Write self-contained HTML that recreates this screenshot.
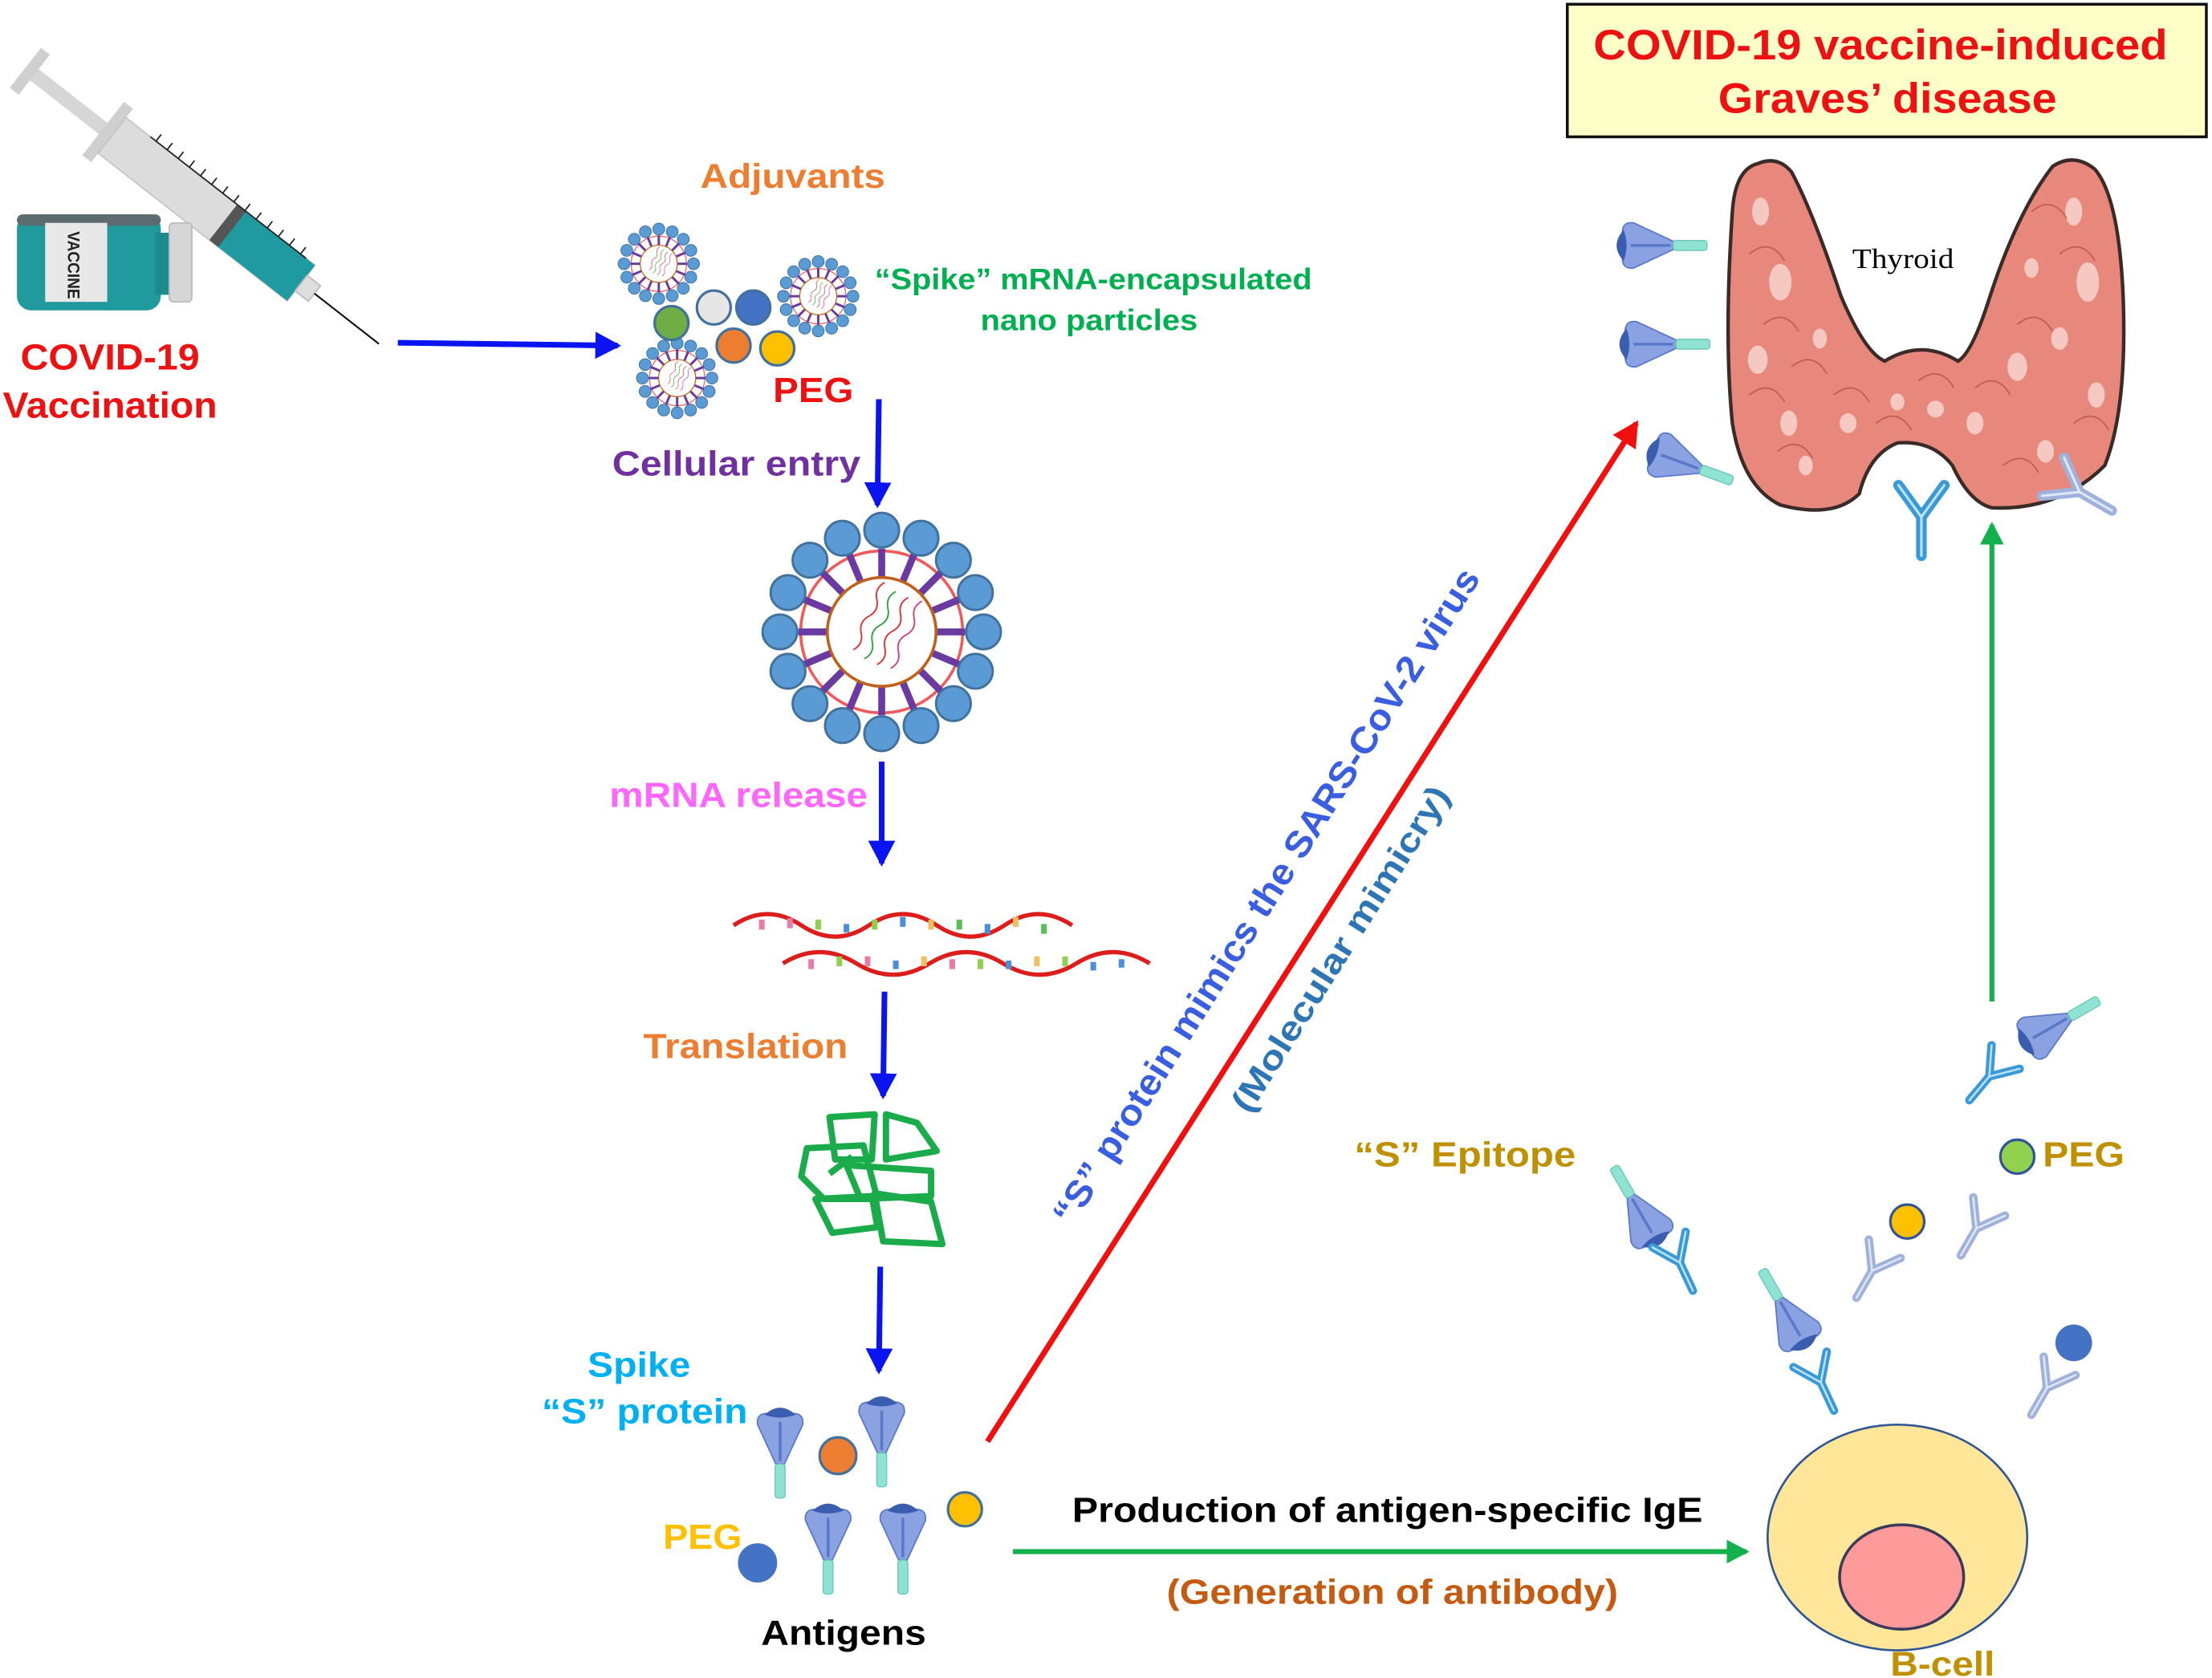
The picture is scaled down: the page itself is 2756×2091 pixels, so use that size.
<!DOCTYPE html>
<html><head><meta charset="utf-8"><style>
html,body{margin:0;padding:0;background:#fff;}
svg{display:block;}
text{font-family:"Liberation Sans",Arial,sans-serif;font-weight:bold;}
</style></head><body>
<svg width="2756" height="2091" viewBox="0 0 1568 1189.6" preserveAspectRatio="none" xmlns="http://www.w3.org/2000/svg">
<defs>
  <marker id="ab" markerWidth="6" markerHeight="6" refX="4" refY="3" orient="auto" markerUnits="strokeWidth"><path d="M0,0.6 L4.6,3 L0,5.4 Z" fill="#0a14f0"/></marker>
  <marker id="ar" markerWidth="6" markerHeight="6" refX="4" refY="3" orient="auto" markerUnits="strokeWidth"><path d="M0,0.6 L4.6,3 L0,5.4 Z" fill="#f01010"/></marker>
  <marker id="ag" markerWidth="6" markerHeight="6" refX="4" refY="3" orient="auto" markerUnits="strokeWidth"><path d="M0,0.6 L4.6,3 L0,5.4 Z" fill="#14b04c"/></marker>
  <g id="np">
    <circle r="70" fill="none" stroke="#f05a5a" stroke-width="2.5"/>
    <g stroke="#6a3aa0" stroke-width="6">
      <line x1="0" y1="-47" x2="0" y2="-72"/><line x1="0" y1="47" x2="0" y2="72"/>
      <line x1="-47" y1="0" x2="-72" y2="0"/><line x1="47" y1="0" x2="72" y2="0"/>
      <line x1="33" y1="33" x2="51" y2="51"/><line x1="-33" y1="33" x2="-51" y2="51"/>
      <line x1="33" y1="-33" x2="51" y2="-51"/><line x1="-33" y1="-33" x2="-51" y2="-51"/>
      <line x1="18" y1="-43" x2="28" y2="-67"/><line x1="-18" y1="-43" x2="-28" y2="-67"/>
      <line x1="18" y1="43" x2="28" y2="67"/><line x1="-18" y1="43" x2="-28" y2="67"/>
      <line x1="43" y1="18" x2="67" y2="28"/><line x1="-43" y1="18" x2="-67" y2="28"/>
      <line x1="43" y1="-18" x2="67" y2="-28"/><line x1="-43" y1="-18" x2="-67" y2="-28"/>
    </g>
    <circle r="47" fill="#fff" stroke="#c0601a" stroke-width="2.5"/>
    <g fill="none" stroke-width="1.3">
      <path d="M-22,25 q6,-8 0,-16 q-6,-8 0,-16 q6,-8 0,-16 q-6,-8 0,-16" stroke="#e03030" transform="translate(6,2) rotate(25)"/>
      <path d="M-10,28 q6,-8 0,-16 q-6,-8 0,-16 q6,-8 0,-16 q-6,-8 0,-16" stroke="#30a040" transform="translate(6,2) rotate(25)"/>
      <path d="M2,28 q6,-8 0,-16 q-6,-8 0,-16 q6,-8 0,-16 q-6,-8 0,-16" stroke="#e03030" transform="translate(6,2) rotate(25)"/>
      <path d="M14,26 q6,-8 0,-16 q-6,-8 0,-16 q6,-8 0,-16 q-6,-8 0,-16" stroke="#d04080" transform="translate(6,2) rotate(25)"/>
    </g>
    <g fill="#5b9bd5" stroke="#41719c" stroke-width="2">
      <circle cx="0" cy="-88" r="15"/><circle cx="34" cy="-81" r="15"/><circle cx="62" cy="-62" r="15"/><circle cx="81" cy="-34" r="15"/>
      <circle cx="88" cy="0" r="15"/><circle cx="81" cy="34" r="15"/><circle cx="62" cy="62" r="15"/><circle cx="34" cy="81" r="15"/>
      <circle cx="0" cy="88" r="15"/><circle cx="-34" cy="81" r="15"/><circle cx="-62" cy="62" r="15"/><circle cx="-81" cy="34" r="15"/>
      <circle cx="-88" cy="0" r="15"/><circle cx="-81" cy="-34" r="15"/><circle cx="-62" cy="-62" r="15"/><circle cx="-34" cy="-81" r="15"/>
    </g>
  </g>
  <g id="spk">
    <path d="M-16,-20 Q-17,-28 -9,-28 Q0,-35 9,-28 Q17,-28 16,-20 L3,8 L-3,8 Z" fill="#8aa2e2" stroke="#5a78c8" stroke-width="1"/>
    <path d="M-11,-27 Q0,-37 11,-27 Q0,-23 -11,-27 Z" fill="#3a5db0"/>
    <path d="M0,-22 L0,6" stroke="#5a78c8" stroke-width="2"/>
    <rect x="-3.5" y="8" width="7" height="24" rx="2" fill="#8fe3d2" stroke="#6cc8b8" stroke-width="0.8"/>
  </g>
  <g id="iab" fill="none" stroke-linecap="round">
    <path d="M0,0 L0,-22 L-13,-40 M0,-22 L13,-40" stroke="#3a9ad8" stroke-width="6"/>
    <path d="M0,0 L0,-22 L-13,-40 M0,-22 L13,-40" stroke="#bfe3f7" stroke-width="1.4"/>
  </g>
  <g id="iabl" fill="none" stroke-linecap="round">
    <path d="M0,0 L0,-22 L-13,-40 M0,-22 L13,-40" stroke="#9fb2dc" stroke-width="6"/>
    <path d="M0,0 L0,-22 L-13,-40 M0,-22 L13,-40" stroke="#e0e8f6" stroke-width="1.4"/>
  </g>
</defs>

<!-- Title box -->
<rect x="1111" y="3" width="453" height="94" fill="#fefec8" stroke="#111" stroke-width="2"/>
<text x="1333" y="42" font-size="30" fill="#ee1111" text-anchor="middle" textLength="407" lengthAdjust="spacingAndGlyphs">COVID-19 vaccine-induced</text>
<text x="1338" y="80" font-size="30" fill="#ee1111" text-anchor="middle" textLength="240" lengthAdjust="spacingAndGlyphs">Graves’ disease</text>

<!-- Syringe -->
<g transform="translate(18,48) rotate(38)">
  <rect x="0" y="-18" width="8" height="36" fill="#cfcfcf"/>
  <rect x="8" y="-5" width="70" height="10" fill="#d6d6d6"/>
  <rect x="70" y="-24" width="8" height="48" fill="#cfcfcf"/>
  <rect x="78" y="-16" width="170" height="32" fill="#dcdcdc" stroke="#c4c4c4"/>
  <rect x="185" y="-16" width="63" height="32" fill="#1f9aa0"/>
  <rect x="178" y="-16" width="8" height="32" fill="#555"/>
  <path d="M105,-16 v-6 M115,-16 v-6 M125,-16 v-6 M135,-16 v-6 M145,-16 v-6 M155,-16 v-6 M165,-16 v-6 M175,-16 v-6 M185,-16 v-6 M195,-16 v-6 M205,-16 v-6 M215,-16 v-6 M225,-16 v-6 M235,-16 v-6" stroke="#222" stroke-width="1"/>
  <line x1="100" y1="-16" x2="240" y2="-16" stroke="#222" stroke-width="1"/>
  <rect x="248" y="-7" width="12" height="14" fill="#ddd" stroke="#bbb"/>
  <line x1="260" y1="0" x2="318" y2="0" stroke="#111" stroke-width="1.2"/>
</g>
<!-- Vial -->
<rect x="12" y="152" width="102" height="68" rx="10" fill="#219a9e"/>
<rect x="12" y="152" width="102" height="8" rx="4" fill="#5c6b6e"/>
<rect x="110" y="165" width="12" height="44" fill="#1d8a8e"/>
<rect x="120" y="158" width="16" height="56" rx="3" fill="#d6d6d6" stroke="#bbb"/>
<rect x="32" y="158" width="44" height="56" fill="#e8e8e8"/>
<text transform="translate(48,164) rotate(90)" font-size="12" fill="#222" textLength="48" lengthAdjust="spacingAndGlyphs">VACCINE</text>
<text x="78" y="262" font-size="26" fill="#ee1111" text-anchor="middle" textLength="127" lengthAdjust="spacingAndGlyphs">COVID-19</text>
<text x="78" y="296" font-size="26" fill="#ee1111" text-anchor="middle" textLength="152" lengthAdjust="spacingAndGlyphs">Vaccination</text>

<!-- arrow vacc -> np -->
<line x1="282" y1="243" x2="438" y2="245" stroke="#0a14f0" stroke-width="4" marker-end="url(#ab)"/>

<text x="562" y="133" font-size="24" fill="#ed7d31" text-anchor="middle" textLength="131" lengthAdjust="spacingAndGlyphs">Adjuvants</text>
<use href="#np" transform="translate(467,187) scale(0.28)"/>
<use href="#np" transform="translate(580,210) scale(0.28)"/>
<use href="#np" transform="translate(480,268) scale(0.28)"/>
<g stroke="#41719c" stroke-width="1.8">
  <circle cx="476" cy="229" r="12" fill="#70ad47"/>
  <circle cx="506" cy="218" r="12" fill="#e6e6e6"/>
  <circle cx="534" cy="218" r="12" fill="#4472c4"/>
  <circle cx="520" cy="245" r="12" fill="#ed7d31"/>
  <circle cx="551" cy="247" r="12" fill="#ffc000"/>
</g>
<text x="548" y="285" font-size="25" fill="#ee1111" textLength="57" lengthAdjust="spacingAndGlyphs">PEG</text>
<text x="620" y="205" font-size="21" fill="#00b050" textLength="310" lengthAdjust="spacingAndGlyphs">“Spike” mRNA-encapsulated</text>
<text x="772" y="234" font-size="21" fill="#00b050" text-anchor="middle" textLength="154" lengthAdjust="spacingAndGlyphs">nano particles</text>

<line x1="623" y1="283" x2="622" y2="358" stroke="#0a14f0" stroke-width="4" marker-end="url(#ab)"/>
<text x="434" y="337" font-size="25" fill="#7030a0" textLength="176" lengthAdjust="spacingAndGlyphs">Cellular entry</text>

<use href="#np" transform="translate(625,448) scale(0.82)"/>

<line x1="625" y1="540" x2="625" y2="612" stroke="#0a14f0" stroke-width="4" marker-end="url(#ab)"/>
<text x="432" y="572" font-size="25" fill="#ff66ff" textLength="183" lengthAdjust="spacingAndGlyphs">mRNA release</text>

<!-- DNA -->
<g fill="none" stroke="#dd1c1c" stroke-width="3">
  <path d="M520,656 q24,-16 48,0 q24,16 48,0 q24,-16 48,0 q24,16 48,0 q24,-16 48,0"/>
  <path d="M555,683 q26,-16 52,0 q26,16 52,0 q26,-16 52,0 q26,16 52,0 q26,-16 52,0"/>
</g>
<g stroke-width="4">
  <path d="M540,652 v7 M560,651 v7" stroke="#e87ca8"/><path d="M580,652 v7 M620,652 v7" stroke="#8fd050"/>
  <path d="M600,655 v6 M640,650 v7 M700,655 v7" stroke="#4a8fd8"/><path d="M660,652 v7 M720,650 v7" stroke="#f0c060"/>
  <path d="M680,652 v7 M740,655 v7" stroke="#58c058"/>
  <path d="M575,680 v7 M615,678 v7 M675,680 v7" stroke="#e87ca8"/><path d="M595,678 v7 M695,680 v7 M755,678 v7" stroke="#8fd050"/>
  <path d="M635,681 v6 M715,681 v6 M775,682 v6 M795,680 v6" stroke="#4a8fd8"/><path d="M655,678 v7 M735,678 v7" stroke="#f0c060"/>
</g>

<line x1="627" y1="703" x2="626" y2="777" stroke="#0a14f0" stroke-width="4" marker-end="url(#ab)"/>
<text x="456" y="750" font-size="25" fill="#ed7d31" textLength="145" lengthAdjust="spacingAndGlyphs">Translation</text>

<!-- protein -->
<g fill="none" stroke="#1aab4a" stroke-width="4.5" stroke-linejoin="round">
  <path d="M588,792 L620,790 L618,822 L592,822 Z"/>
  <path d="M628,790 L650,796 L664,816 L628,822 Z"/>
  <path d="M572,814 L612,812 L622,850 L584,850 L568,834 Z"/>
  <path d="M600,826 L660,830 L660,848 L610,850 Z"/>
  <path d="M578,850 L618,848 L622,870 L590,874 Z"/>
  <path d="M620,846 L660,852 L668,882 L626,880 Z"/>
  <path d="M604,820 L588,832"/>
</g>

<line x1="624" y1="898" x2="623" y2="972" stroke="#0a14f0" stroke-width="4" marker-end="url(#ab)"/>

<text x="453" y="976" font-size="25" fill="#00b0f0" text-anchor="middle" textLength="73" lengthAdjust="spacingAndGlyphs">Spike</text>
<text x="384" y="1009" font-size="25" fill="#00b0f0" textLength="146" lengthAdjust="spacingAndGlyphs">“S” protein</text>
<use href="#spk" transform="translate(553,1030)"/>
<use href="#spk" transform="translate(625,1022)"/>
<use href="#spk" transform="translate(587,1098)"/>
<use href="#spk" transform="translate(640,1098)"/>
<g stroke="#41719c" stroke-width="1.8">
  <circle cx="594" cy="1032" r="13" fill="#ed7d31"/>
  <circle cx="684" cy="1070" r="12" fill="#ffc000"/>
  <circle cx="537" cy="1108" r="13" fill="#4472c4" stroke="#4472c4"/>
</g>
<text x="470" y="1098" font-size="25" fill="#ffc000" textLength="56" lengthAdjust="spacingAndGlyphs">PEG</text>
<text x="598" y="1166" font-size="25" fill="#000" text-anchor="middle" textLength="117" lengthAdjust="spacingAndGlyphs">Antigens</text>

<!-- red arrow -->
<line x1="700" y1="1022" x2="1160" y2="300" stroke="#f01010" stroke-width="4" marker-end="url(#ar)"/>
<text transform="translate(905,640) rotate(-57.8)" font-size="26" fill="#3a5ee0" text-anchor="middle" textLength="544" lengthAdjust="spacingAndGlyphs">“S” protein mimics the SARS-CoV-2 virus</text>
<text transform="translate(957,677) rotate(-57.8)" font-size="24" fill="#2e75b6" text-anchor="middle" textLength="268" lengthAdjust="spacingAndGlyphs">(Molecular mimicry)</text>

<!-- green horizontal -->
<line x1="718" y1="1100" x2="1238" y2="1100" stroke="#14b04c" stroke-width="3.5" marker-end="url(#ag)"/>
<text x="760" y="1079" font-size="25" fill="#000" textLength="447" lengthAdjust="spacingAndGlyphs">Production of antigen-specific IgE</text>
<text x="827" y="1137" font-size="25" fill="#c55a11" textLength="320" lengthAdjust="spacingAndGlyphs">(Generation of antibody)</text>

<!-- B cell -->
<ellipse cx="1345" cy="1090" rx="92" ry="80" fill="#ffe699" stroke="#2f5597" stroke-width="1.5"/>
<ellipse cx="1348" cy="1118" rx="44" ry="37" fill="#ff9a9a" stroke="#3a3a5a" stroke-width="2"/>
<text x="1377" y="1188" font-size="24" fill="#bf9000" text-anchor="middle" textLength="74" lengthAdjust="spacingAndGlyphs">B-cell</text>

<!-- green vertical -->
<line x1="1412" y1="710" x2="1412" y2="372" stroke="#14b04c" stroke-width="3.5" marker-end="url(#ag)"/>

<text x="960" y="827" font-size="25" fill="#bf9000" textLength="157" lengthAdjust="spacingAndGlyphs">“S” Epitope</text>
<circle cx="1430" cy="820" r="12" fill="#92d050" stroke="#2f5597" stroke-width="1.8"/>
<text x="1448" y="827" font-size="25" fill="#bf9000" textLength="58" lengthAdjust="spacingAndGlyphs">PEG</text>

<!-- antibodies and epitopes near B cell -->
<use href="#spk" transform="translate(1160,855) rotate(150)"/>
<use href="#iab" transform="translate(1200,915) rotate(-25)"/>
<use href="#spk" transform="translate(1265,928) rotate(150)"/>
<use href="#iab" transform="translate(1300,1000) rotate(-25)"/>
<use href="#iabl" transform="translate(1316,920) rotate(30)"/>
<circle cx="1352" cy="866" r="12" fill="#ffc000" stroke="#2f5597" stroke-width="1.8"/>
<use href="#iabl" transform="translate(1390,890) rotate(30)"/>
<use href="#iabl" transform="translate(1440,1003) rotate(30)"/>
<circle cx="1470" cy="952" r="13" fill="#4472c4"/>
<use href="#iab" transform="translate(1396,780) rotate(40)"/>
<use href="#spk" transform="translate(1460,725) rotate(-120)"/>

<!-- Thyroid -->
<path d="M1246,116 Q1230,120 1228,150 Q1222,240 1228,300 Q1235,345 1262,358 Q1300,368 1318,350 Q1325,322 1345,314 Q1370,312 1384,330 Q1396,356 1412,360 Q1460,362 1492,330 Q1508,290 1505,210 Q1502,140 1485,120 Q1470,108 1455,118 Q1430,150 1410,212 Q1398,250 1388,256 Q1362,240 1336,256 Q1322,250 1305,210 Q1285,150 1270,122 Q1260,110 1246,116 Z" fill="#e8877b" stroke="#3a2a28" stroke-width="2.5"/>
<g fill="#f9d4cf" opacity="0.85">
  <ellipse cx="1248" cy="150" rx="6" ry="10"/><ellipse cx="1262" cy="200" rx="8" ry="13"/><ellipse cx="1246" cy="255" rx="7" ry="10"/>
  <ellipse cx="1268" cy="300" rx="6" ry="9"/><ellipse cx="1290" cy="240" rx="5" ry="7"/><ellipse cx="1310" cy="300" rx="6" ry="7"/>
  <ellipse cx="1345" cy="285" rx="5" ry="6"/><ellipse cx="1372" cy="290" rx="6" ry="6"/><ellipse cx="1400" cy="300" rx="6" ry="8"/>
  <ellipse cx="1430" cy="260" rx="7" ry="10"/><ellipse cx="1470" cy="150" rx="6" ry="10"/><ellipse cx="1480" cy="200" rx="8" ry="14"/>
  <ellipse cx="1460" cy="240" rx="6" ry="8"/><ellipse cx="1486" cy="280" rx="6" ry="9"/><ellipse cx="1450" cy="320" rx="6" ry="8"/>
  <ellipse cx="1280" cy="330" rx="5" ry="7"/><ellipse cx="1440" cy="190" rx="5" ry="7"/>
</g>
<g fill="none" stroke="#b04a45" stroke-width="1" opacity="0.7">
  <path d="M1240,180 q15,-12 25,5 M1250,230 q15,-12 25,5 M1240,280 q15,-12 25,5 M1270,260 q15,-12 25,5 M1300,280 q15,-12 25,5 M1330,300 q15,-12 25,5 M1360,270 q15,-12 25,5 M1400,275 q15,-12 25,5 M1430,230 q15,-12 25,5 M1460,180 q15,-12 25,5 M1470,300 q15,-12 25,5 M1440,150 q15,-12 25,5 M1260,320 q15,-12 25,5 M1420,330 q15,-12 25,5"/>
</g>
<text x="1313" y="190" font-size="20" fill="#000" textLength="72" lengthAdjust="spacingAndGlyphs" style="font-weight:normal;font-family:'Liberation Serif',serif">Thyroid</text>
<use href="#spk" transform="translate(1178,174) rotate(-90)"/>
<use href="#spk" transform="translate(1180,244) rotate(-90)"/>
<use href="#spk" transform="translate(1198,330) rotate(-70)"/>
<use href="#iab" transform="translate(1362,394) scale(1.25)"/>
<use href="#iabl" transform="translate(1497,362) rotate(-60) scale(1.2)"/>
</svg>
</body></html>
